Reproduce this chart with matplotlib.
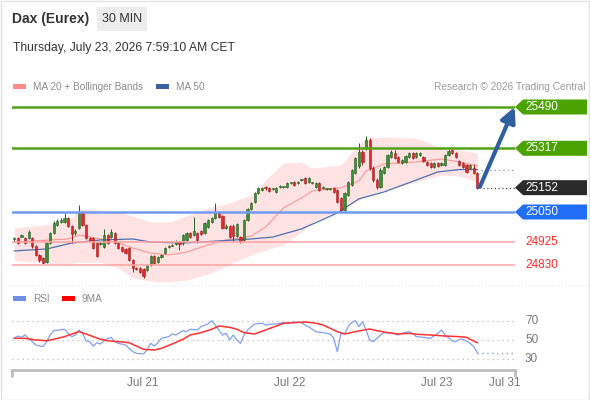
import numpy as np
import matplotlib.pyplot as plt
import matplotlib.transforms as mtrans
from matplotlib.patches import Polygon, Rectangle

plt.rcParams['font.family'] = ['Liberation Sans', 'DejaVu Sans']

# 30 min candles, Jul 20 -> Jul 23 morning
opens = [24937, 24941, 24945, 24941, 24941, 24941, 24908, 24870, 24857, 24840,
         24920, 24962, 24996, 25008, 25008, 25025, 24991, 24962, 24983, 25050,
         24996, 24941, 24941, 24920, 24916, 24903, 24954, 24945, 24962, 24920,
         24903, 24895, 24899, 24849, 24815, 24815, 24811, 24807, 24828, 24866,
         24840, 24861, 24878, 24903, 24908, 24916, 24924, 24920, 24933, 24962,
         24954, 24962, 24970, 24962, 24987, 25008, 25025, 25050, 25033, 24983,
         24991, 24991, 24949, 24945, 24933, 25017, 25063, 25092, 25130, 25142,
         25151, 25151, 25146, 25134, 25155, 25155, 25155, 25171, 25176, 25171,
         25184, 25192, 25176, 25171, 25155, 25171, 25151, 25146, 25146, 25151,
         25142, 25109, 25058, 25121, 25163, 25213, 25243, 25301, 25318, 25352,
         25234, 25184, 25155, 25213, 25239, 25280, 25297, 25280, 25255, 25260,
         25280, 25297, 25280, 25289, 25280, 25260, 25255, 25239, 25255, 25247,
         25247, 25289, 25310, 25297, 25264, 25255, 25247, 25234, 25234, 25213]
closes = [24937, 24920, 24954, 24920, 24966, 24908, 24870, 24849, 24836, 24920,
          24962, 25004, 25012, 25017, 25025, 24991, 24958, 24970, 25050, 24996,
          24941, 24933, 24899, 24866, 24920, 24954, 24920, 24966, 24920, 24899,
          24887, 24878, 24849, 24815, 24811, 24799, 24782, 24828, 24866, 24836,
          24861, 24870, 24899, 24908, 24912, 24924, 24916, 24954, 24962, 24945,
          24970, 24933, 24958, 25004, 25017, 25025, 25050, 25029, 24983, 24991,
          24945, 24949, 25000, 24928, 25017, 25063, 25088, 25130, 25151, 25151,
          25150, 25138, 25146, 25151, 25155, 25155, 25171, 25171, 25163, 25176,
          25184, 25171, 25192, 25171, 25171, 25142, 25151, 25146, 25146, 25134,
          25092, 25058, 25130, 25176, 25226, 25276, 25301, 25260, 25352, 25234,
          25184, 25155, 25226, 25239, 25289, 25301, 25276, 25260, 25268, 25285,
          25297, 25276, 25297, 25297, 25264, 25247, 25239, 25255, 25243, 25255,
          25289, 25306, 25297, 25280, 25247, 25239, 25218, 25247, 25213, 25152]
highs = [24945, 24945, 24958, 24945, 24975, 24945, 24912, 24874, 24861, 24924,
         24966, 25012, 25021, 25025, 25046, 25029, 24996, 24979, 25079, 25054,
         25000, 24945, 24945, 24924, 24928, 24979, 24958, 24979, 24966, 24924,
         24908, 24899, 24903, 24853, 24819, 24819, 24815, 24832, 24870, 24870,
         24866, 24874, 24903, 24912, 24916, 24933, 24928, 24958, 24966, 24966,
         25029, 24966, 24975, 25008, 25021, 25029, 25088, 25054, 25037, 25000,
         24996, 25000, 25004, 24949, 25021, 25067, 25092, 25134, 25155, 25155,
         25159, 25155, 25151, 25155, 25163, 25159, 25176, 25176, 25180, 25180,
         25188, 25197, 25197, 25176, 25176, 25176, 25159, 25151, 25151, 25155,
         25146, 25113, 25134, 25180, 25230, 25280, 25339, 25310, 25368, 25360,
         25243, 25192, 25234, 25243, 25293, 25310, 25310, 25285, 25272, 25289,
         25301, 25301, 25301, 25301, 25285, 25264, 25260, 25260, 25260, 25260,
         25293, 25314, 25314, 25301, 25268, 25260, 25251, 25251, 25251, 25218]
lows = [24928, 24916, 24945, 24916, 24937, 24899, 24866, 24840, 24832, 24836,
        24916, 24958, 24991, 25004, 25004, 24987, 24920, 24954, 24979, 24991,
        24937, 24928, 24895, 24861, 24912, 24899, 24916, 24941, 24916, 24895,
        24882, 24874, 24845, 24799, 24807, 24794, 24774, 24803, 24824, 24832,
        24836, 24857, 24874, 24899, 24908, 24912, 24891, 24912, 24928, 24941,
        24949, 24920, 24954, 24958, 24983, 25004, 25021, 25025, 24979, 24979,
        24941, 24924, 24945, 24920, 24928, 25012, 25058, 25088, 25125, 25138,
        25142, 25134, 25142, 25130, 25151, 25151, 25151, 25167, 25159, 25167,
        25180, 25167, 25171, 25167, 25151, 25138, 25146, 25142, 25142, 25130,
        25088, 25050, 25054, 25117, 25159, 25209, 25234, 25247, 25310, 25226,
        25176, 25146, 25151, 25209, 25234, 25276, 25272, 25255, 25251, 25255,
        25276, 25272, 25276, 25285, 25260, 25243, 25234, 25234, 25239, 25243,
        25243, 25285, 25293, 25276, 25243, 25234, 25213, 25230, 25209, 25146]

# moving averages / bands
band_idx = [0, 15, 18, 24, 29, 33, 38, 43, 48, 54, 59, 66, 70, 75, 80, 83, 91, 96, 98, 103, 112, 119, 124, 129]
ma20 = [24924, 24937, 24954, 24937, 24920, 24899, 24878, 24870, 24882, 24912, 24933, 24949,
        24987, 25067, 25109, 25138, 25151, 25180, 25222, 25251, 25260, 25272, 25260, 25243]
bb_upper = [24983, 25008, 25063, 25058, 25050, 25033, 25008, 25008, 25033, 25067, 25084, 25121,
            25184, 25255, 25260, 25234, 25247, 25331, 25360, 25364, 25360, 25318, 25310, 25297]
bb_lower = [24845, 24832, 24840, 24840, 24815, 24774, 24761, 24757, 24765, 24790, 24824, 24870,
            24891, 24912, 24966, 25008, 25058, 25100, 25117, 25142, 25176, 25205, 25201, 25176]
ma50_idx = [0, 9, 16, 24, 33, 38, 47, 56, 66, 72, 80, 85, 90, 96, 103, 112, 118, 124, 129]
ma50 = [24887, 24895, 24920, 24933, 24937, 24924, 24920, 24928, 24937, 24945, 24979, 25012,
        25046, 25105, 25134, 25184, 25218, 25228, 25228]

# RSI panel
rsi_t = [0, 1, 2, 3, 5, 6, 8, 9, 10, 11, 14, 15, 16, 17, 18, 19, 20, 21, 22, 23, 24, 26, 27, 28, 29,
         31, 33, 34, 36, 37, 38, 39, 40, 41, 43, 44, 45, 47, 48, 49, 51, 52, 54, 55, 56, 58, 59, 60,
         61, 62, 63, 64, 65, 67, 69, 70, 72, 73, 75, 76, 78, 80, 81, 82, 84, 86, 88, 89, 90, 91, 92,
         93, 94, 95, 96, 97, 98, 99, 100, 101, 102, 103, 105, 106, 107, 108, 110, 111, 112, 114, 116,
         118, 119, 120, 122, 123, 124, 125, 127, 128, 129]
rsi = [51.8, 54.3, 52.9, 55.4, 48.2, 44.6, 42.8, 48.2, 55.4, 60.1, 61.6, 57.2, 53.6, 55.4, 60.8,
       57.2, 49.2, 48.2, 43.5, 47.1, 45.7, 51.8, 52.5, 48.2, 46.4, 44.6, 37.4, 35.6, 34.9, 39.2,
       46.4, 43.5, 47.1, 51.8, 53.6, 56.5, 55.4, 60.1, 59.0, 61.6, 60.8, 64.4, 67.3, 70.9, 66.2,
       55.4, 57.2, 50.0, 55.4, 50.0, 46.4, 55.4, 60.8, 67.3, 68.1, 66.2, 67.3, 67.3, 68.7, 68.1,
       69.5, 68.7, 66.2, 64.4, 59.0, 57.9, 56.5, 51.8, 37.4, 57.2, 56.5, 64.4, 68.7, 70.9, 64.4,
       69.8, 60.8, 50.0, 48.2, 51.8, 55.4, 57.9, 57.9, 56.5, 55.4, 57.2, 59.0, 57.2, 53.6, 52.9,
       51.8, 57.2, 60.8, 55.4, 49.2, 48.2, 50.8, 50.8, 46.4, 42.8, 36.3]
ma9_t = [0, 3, 6, 9, 11, 14, 16, 18, 20, 22, 24, 26, 29, 32, 34, 36, 39, 41, 44, 47, 49, 52, 55,
         57, 60, 62, 64, 67, 70, 73, 75, 78, 81, 84, 86, 88, 90, 92, 95, 99, 101, 104, 107, 110,
         112, 116, 120, 124, 126, 127, 129]
rsi_ma9 = [51.8, 51.8, 50.0, 49.2, 50.8, 53.6, 56.5, 59.0, 56.5, 53.6, 50.8, 49.2, 48.2, 47.1,
           43.5, 39.9, 39.2, 41.0, 45.7, 50.8, 55.4, 57.9, 61.6, 65.1, 63.7, 61.6, 57.9, 56.5,
           60.8, 65.1, 68.1, 68.7, 69.5, 68.1, 66.2, 62.6, 59.0, 56.5, 59.0, 61.9, 60.1, 57.9,
           56.5, 57.2, 56.2, 55.4, 54.3, 53.6, 52.9, 50.8, 47.1]

resistances = [25490, 25317]
pivot = 25050
supports = [24925, 24830]
last_price = closes[-1]
target = 25490

day_ticks = [35.8, 76.8, 117.7, 136.7]
day_labels = ['Jul 21', 'Jul 22', 'Jul 23', 'Jul 31']

W, H = 590, 400
fig = plt.figure(figsize=(W / 100, H / 100), dpi=100)
fig.patch.set_facecolor('white')


def fx(px):
    return px / W


def fy(py):
    return 1 - py / H


# frame + header
fig.patches.append(Rectangle((0.5 / W, 0.5 / H), 1 - 1.5 / W, 1 - 1.5 / H, transform=fig.transFigure,
                             fill=False, ec='#e2e2e2', lw=1))
fig.text(fx(12), fy(19), 'Dax (Eurex)', fontsize=10, fontweight='bold', color='#333333', va='center')
fig.patches.append(Rectangle((fx(97), fy(31)), 50 / W, 24 / H, transform=fig.transFigure,
                             fc='#ececec', ec='none'))
fig.text(fx(122), fy(19), '30 MIN', fontsize=9, color='#333333', ha='center', va='center')
fig.text(fx(13), fy(48), 'Thursday, July 23, 2026 7:59:10 AM CET', fontsize=8.7, color='#333333', va='center')

# legends
fig.patches.append(Rectangle((fx(13), fy(89)), 13 / W, 5 / H, transform=fig.transFigure, fc='#ff8a8a', ec='none'))
fig.text(fx(33), fy(86.5), 'MA 20 + Bollinger Bands', fontsize=7.2, color='#8a8a8a', va='center')
fig.patches.append(Rectangle((fx(156), fy(89)), 13 / W, 5 / H, transform=fig.transFigure, fc='#3b5f9f', ec='none'))
fig.text(fx(176), fy(86.5), 'MA 50', fontsize=7.2, color='#8a8a8a', va='center')
fig.text(fx(585), fy(86.5), 'Research \u00a9 2026 Trading Central', fontsize=7.3, color='#9a9a9a',
         va='center', ha='right')

fig.patches.append(Rectangle((fx(13), fy(301)), 13 / W, 5 / H, transform=fig.transFigure, fc='#6d8fe8', ec='none'))
fig.text(fx(33), fy(298.5), 'RSI', fontsize=7.2, color='#8a8a8a', va='center')
fig.patches.append(Rectangle((fx(62), fy(301)), 13 / W, 5 / H, transform=fig.transFigure, fc='#ff0000', ec='none'))
fig.text(fx(82), fy(298.5), '9MA', fontsize=7.2, color='#8a8a8a', va='center')

# ---- price panel
x0, x1 = -0.64, 139.5
ax = fig.add_axes([fx(12), fy(283), 503 / W, 185 / H])
ax.set_xlim(x0, x1)
ax.set_ylim(24752.5, 25527.7)
ax.axis('off')

ax.fill_between(band_idx, bb_lower, bb_upper, color='#ffe3e3', lw=0, zorder=1)
ax.plot(band_idx, ma20, color='#ff9494', lw=0.8, zorder=2)
ax.plot(ma50_idx, ma50, color='#4a6eb0', lw=0.9, zorder=2)

idx = np.arange(len(closes))
o = np.array(opens)
c = np.array(closes)
up = c >= o
body_lo = np.minimum(o, c)
body_h = np.maximum(np.abs(c - o), 3)
cols = np.where(up, '#3b8e35', '#e32626')
edges = np.where(up, '#245e20', '#9b1a1a')
ax.vlines(idx, lows, highs, colors=edges, lw=0.7, zorder=3)
ax.bar(idx, body_h, bottom=body_lo, width=0.62, color=cols, edgecolor=edges, linewidth=0.4, zorder=4)

green = '#52a317'
for lvl in resistances:
    ax.axhline(lvl, color=green, lw=1.8, zorder=5)
ax.axhline(pivot, color='#6f9cf2', lw=1.8, zorder=5)
for lvl in supports:
    ax.axhline(lvl, color='#ffa3a3', lw=1.1, zorder=5)

ax.hlines(last_price, idx[-1] + 1.5, x1, colors='#444444', lw=0.9, linestyles=(0, (1, 2)), zorder=5)
ax.hlines(ma50[-1], idx[-1] + 1, x1, colors='#7c93c4', lw=0.9, linestyles=(0, (1, 2.5)), zorder=5)

ax.annotate('', xy=(x1 - 0.1, target), xytext=(idx[-1] + 0.7, last_price + 3),
            arrowprops=dict(arrowstyle='-|>,head_length=0.9,head_width=0.45', color='#2f5f9f', lw=3,
                            shrinkA=0, shrinkB=0), zorder=6, annotation_clip=False)

# right-hand tags
tr = mtrans.blended_transform_factory(ax.transAxes, ax.transData)
ppx = (25527.7 - 24752.5) / 185.0
half = 7.5 * ppx
tip, shoulder, end = 1.0, 1 + 8 / 503, 1 + 72 / 503


def tag(price, face, txtcol):
    if face is not None:
        poly = Polygon([(tip, price), (shoulder, price + half), (end, price + half),
                        (end, price - half), (shoulder, price - half)], closed=True,
                       transform=tr, fc=face, ec='none', clip_on=False, zorder=7)
        ax.add_patch(poly)
    ax.text(1 + 10 / 503, price, f'{price}', transform=tr, fontsize=8.5, color=txtcol,
            va='center', ha='left', clip_on=False, zorder=8)


for lvl in resistances:
    tag(lvl, '#4aa300', 'white')
tag(last_price, '#2b2b2b', 'white')
tag(pivot, '#1f6ef5', 'white')
for lvl in supports:
    tag(lvl, None, '#ff2a2a')

# separator
fig.lines.append(plt.Line2D([fx(8), fx(588)], [fy(285), fy(285)], transform=fig.transFigure,
                            color='#e8e8e8', lw=0.8, ls=(0, (1, 2))))

# ---- RSI panel
ar = fig.add_axes([fx(12), fy(370), 503 / W, 60 / H])
ar.set_xlim(x0, x1)
ar.set_ylim(17.6, 82.4)
for s in ['top', 'left', 'right']:
    ar.spines[s].set_visible(False)
ar.spines['bottom'].set_color('#bdbdbd')
ar.spines['bottom'].set_linewidth(2)
ar.set_yticks([])
for g in [70, 50, 30]:
    ar.axhline(g, color='#bcbcbc', lw=0.9, ls=(0, (1, 3)), zorder=1)
    ar.text(1 + 10 / 503, g, str(g), transform=mtrans.blended_transform_factory(ar.transAxes, ar.transData),
            fontsize=8.5, color='#777777', va='center', ha='left', clip_on=False)
ar.plot(rsi_t, rsi, color='#7f9ff0', lw=0.9, zorder=3)
ar.plot(ma9_t, rsi_ma9, color='#ff3030', lw=1.1, zorder=4)
ar.hlines(rsi[-1], rsi_t[-1], x1, colors='#7f9ff0', lw=1.0, linestyles=(0, (1, 2.5)), zorder=3)

ar.set_xticks(day_ticks)
ar.set_xticklabels(day_labels, fontsize=8.5, color='#777777')
ar.tick_params(axis='x', which='major', length=0, pad=5)
ar.set_xticks([x0 + 0.05, x1 - 0.05], minor=True)
ar.tick_params(axis='x', which='minor', length=5, width=2, color='#bdbdbd', direction='out')

fig.savefig('out.png', dpi=100, facecolor='white')
